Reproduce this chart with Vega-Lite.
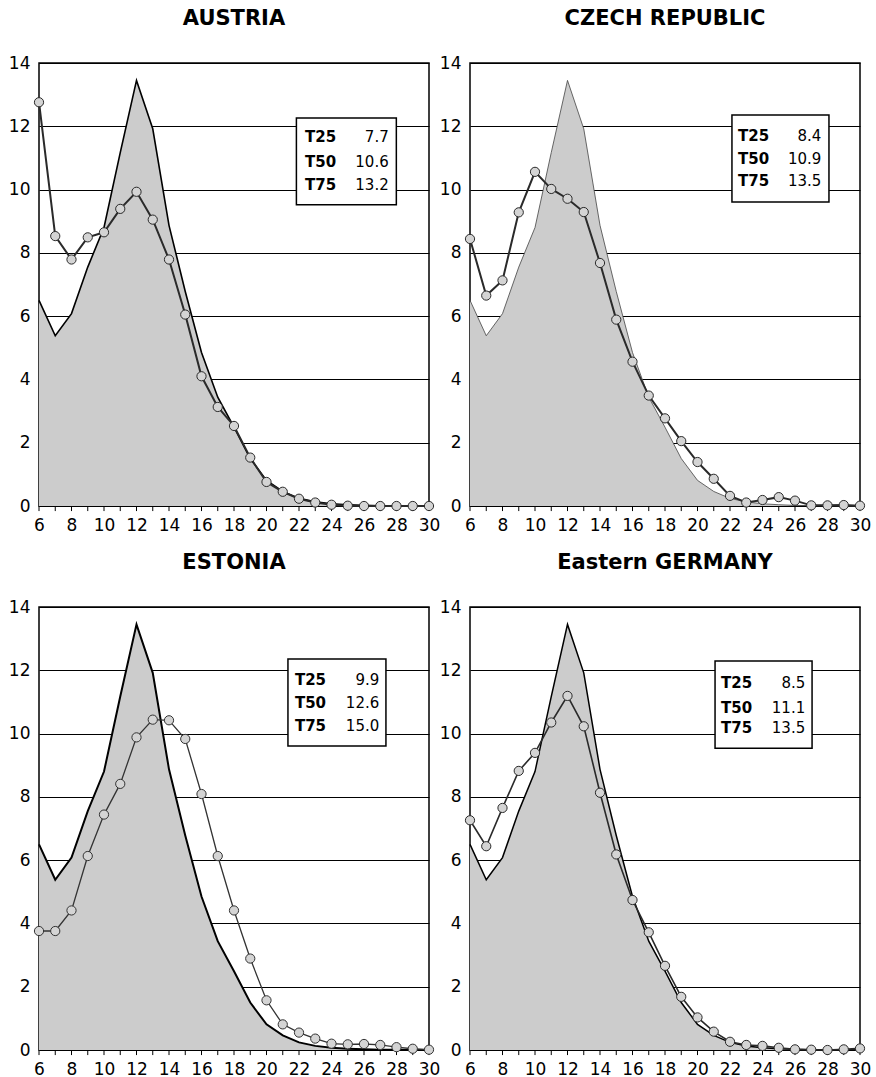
{
  "$schema": "https://vega.github.io/schema/vega-lite/v6.json",
  "background": "white",
  "padding": {"top": 7, "left": 7, "right": 5, "bottom": 5},
  "config": {
    "font": "DejaVu Sans",
    "view": {"stroke": "#000", "strokeWidth": 1.5},
    "axis": {"labelFont": "DejaVu Sans", "labelFontSize": 17, "labelColor": "#000", "domain": false, "labelFlush": false, "labelOverlap": false, "ticks": false, "tickSize": 0},
    "axisY": {"grid": true, "gridColor": "#000", "gridWidth": 1, "labelPadding": 9},
    "axisX": {"grid": false, "labelPadding": 11, "labelFontSize": 17},
    "title": {"font": "DejaVu Sans", "fontSize": 21, "fontWeight": "bold", "color": "#000", "baseline": "alphabetic", "offset": 25, "anchor": "middle"},
    "text": {"font": "DejaVu Sans", "fontSize": 15, "color": "#000", "baseline": "middle"}
  },
  "datasets": {
    "reference_curve": [
      {"age": 6, "pct": 6.5}, {"age": 7, "pct": 5.38}, {"age": 8, "pct": 6.08}, {"age": 9, "pct": 7.55},
      {"age": 10, "pct": 8.8}, {"age": 11, "pct": 11.17}, {"age": 12, "pct": 13.45}, {"age": 13, "pct": 11.92},
      {"age": 14, "pct": 8.87}, {"age": 15, "pct": 6.78}, {"age": 16, "pct": 4.85}, {"age": 17, "pct": 3.44},
      {"age": 18, "pct": 2.49}, {"age": 19, "pct": 1.5}, {"age": 20, "pct": 0.81}, {"age": 21, "pct": 0.46},
      {"age": 22, "pct": 0.24}, {"age": 23, "pct": 0.13}, {"age": 24, "pct": 0.07}, {"age": 25, "pct": 0.04},
      {"age": 26, "pct": 0.02}, {"age": 27, "pct": 0.01}, {"age": 28, "pct": 0.01}, {"age": 29, "pct": 0}, {"age": 30, "pct": 0}
    ],
    "country_curves": [
      {"country": "Austria", "age": 6, "pct": 12.76}, {"country": "Austria", "age": 7, "pct": 8.53},
      {"country": "Austria", "age": 8, "pct": 7.79}, {"country": "Austria", "age": 9, "pct": 8.49},
      {"country": "Austria", "age": 10, "pct": 8.65}, {"country": "Austria", "age": 11, "pct": 9.39},
      {"country": "Austria", "age": 12, "pct": 9.93}, {"country": "Austria", "age": 13, "pct": 9.05},
      {"country": "Austria", "age": 14, "pct": 7.79}, {"country": "Austria", "age": 15, "pct": 6.05},
      {"country": "Austria", "age": 16, "pct": 4.1}, {"country": "Austria", "age": 17, "pct": 3.13},
      {"country": "Austria", "age": 18, "pct": 2.53}, {"country": "Austria", "age": 19, "pct": 1.53},
      {"country": "Austria", "age": 20, "pct": 0.76}, {"country": "Austria", "age": 21, "pct": 0.45},
      {"country": "Austria", "age": 22, "pct": 0.23}, {"country": "Austria", "age": 23, "pct": 0.11},
      {"country": "Austria", "age": 24, "pct": 0.04}, {"country": "Austria", "age": 25, "pct": 0.01},
      {"country": "Austria", "age": 26, "pct": 0}, {"country": "Austria", "age": 27, "pct": 0},
      {"country": "Austria", "age": 28, "pct": 0}, {"country": "Austria", "age": 29, "pct": 0},
      {"country": "Austria", "age": 30, "pct": 0},

      {"country": "Czech Republic", "age": 6, "pct": 8.44}, {"country": "Czech Republic", "age": 7, "pct": 6.65},
      {"country": "Czech Republic", "age": 8, "pct": 7.13}, {"country": "Czech Republic", "age": 9, "pct": 9.28},
      {"country": "Czech Republic", "age": 10, "pct": 10.56}, {"country": "Czech Republic", "age": 11, "pct": 10.02},
      {"country": "Czech Republic", "age": 12, "pct": 9.71}, {"country": "Czech Republic", "age": 13, "pct": 9.29},
      {"country": "Czech Republic", "age": 14, "pct": 7.68}, {"country": "Czech Republic", "age": 15, "pct": 5.89},
      {"country": "Czech Republic", "age": 16, "pct": 4.56}, {"country": "Czech Republic", "age": 17, "pct": 3.49},
      {"country": "Czech Republic", "age": 18, "pct": 2.77}, {"country": "Czech Republic", "age": 19, "pct": 2.05},
      {"country": "Czech Republic", "age": 20, "pct": 1.39}, {"country": "Czech Republic", "age": 21, "pct": 0.86},
      {"country": "Czech Republic", "age": 22, "pct": 0.32}, {"country": "Czech Republic", "age": 23, "pct": 0.11},
      {"country": "Czech Republic", "age": 24, "pct": 0.19}, {"country": "Czech Republic", "age": 25, "pct": 0.28},
      {"country": "Czech Republic", "age": 26, "pct": 0.17}, {"country": "Czech Republic", "age": 27, "pct": 0.02},
      {"country": "Czech Republic", "age": 28, "pct": 0.02}, {"country": "Czech Republic", "age": 29, "pct": 0.03},
      {"country": "Czech Republic", "age": 30, "pct": 0.01},

      {"country": "Estonia", "age": 6, "pct": 3.76}, {"country": "Estonia", "age": 7, "pct": 3.76},
      {"country": "Estonia", "age": 8, "pct": 4.41}, {"country": "Estonia", "age": 9, "pct": 6.13},
      {"country": "Estonia", "age": 10, "pct": 7.44}, {"country": "Estonia", "age": 11, "pct": 8.41},
      {"country": "Estonia", "age": 12, "pct": 9.88}, {"country": "Estonia", "age": 13, "pct": 10.44},
      {"country": "Estonia", "age": 14, "pct": 10.42}, {"country": "Estonia", "age": 15, "pct": 9.83},
      {"country": "Estonia", "age": 16, "pct": 8.09}, {"country": "Estonia", "age": 17, "pct": 6.13},
      {"country": "Estonia", "age": 18, "pct": 4.41}, {"country": "Estonia", "age": 19, "pct": 2.89},
      {"country": "Estonia", "age": 20, "pct": 1.57}, {"country": "Estonia", "age": 21, "pct": 0.81},
      {"country": "Estonia", "age": 22, "pct": 0.55}, {"country": "Estonia", "age": 23, "pct": 0.36},
      {"country": "Estonia", "age": 24, "pct": 0.2}, {"country": "Estonia", "age": 25, "pct": 0.18},
      {"country": "Estonia", "age": 26, "pct": 0.19}, {"country": "Estonia", "age": 27, "pct": 0.16},
      {"country": "Estonia", "age": 28, "pct": 0.09}, {"country": "Estonia", "age": 29, "pct": 0.04},
      {"country": "Estonia", "age": 30, "pct": 0.01},

      {"country": "Eastern Germany", "age": 6, "pct": 7.26}, {"country": "Eastern Germany", "age": 7, "pct": 6.44},
      {"country": "Eastern Germany", "age": 8, "pct": 7.65}, {"country": "Eastern Germany", "age": 9, "pct": 8.82},
      {"country": "Eastern Germany", "age": 10, "pct": 9.39}, {"country": "Eastern Germany", "age": 11, "pct": 10.35},
      {"country": "Eastern Germany", "age": 12, "pct": 11.19}, {"country": "Eastern Germany", "age": 13, "pct": 10.23},
      {"country": "Eastern Germany", "age": 14, "pct": 8.13}, {"country": "Eastern Germany", "age": 15, "pct": 6.18},
      {"country": "Eastern Germany", "age": 16, "pct": 4.74}, {"country": "Eastern Germany", "age": 17, "pct": 3.72},
      {"country": "Eastern Germany", "age": 18, "pct": 2.66}, {"country": "Eastern Germany", "age": 19, "pct": 1.68},
      {"country": "Eastern Germany", "age": 20, "pct": 1.03}, {"country": "Eastern Germany", "age": 21, "pct": 0.58},
      {"country": "Eastern Germany", "age": 22, "pct": 0.26}, {"country": "Eastern Germany", "age": 23, "pct": 0.16},
      {"country": "Eastern Germany", "age": 24, "pct": 0.13}, {"country": "Eastern Germany", "age": 25, "pct": 0.07},
      {"country": "Eastern Germany", "age": 26, "pct": 0.02}, {"country": "Eastern Germany", "age": 27, "pct": 0.01},
      {"country": "Eastern Germany", "age": 28, "pct": 0}, {"country": "Eastern Germany", "age": 29, "pct": 0.02},
      {"country": "Eastern Germany", "age": 30, "pct": 0.05}
    ],
    "quantiles": [
      {"country": "Austria", "stat": "T25", "value": 7.7},
      {"country": "Austria", "stat": "T50", "value": 10.6},
      {"country": "Austria", "stat": "T75", "value": 13.2},
      {"country": "Czech Republic", "stat": "T25", "value": 8.4},
      {"country": "Czech Republic", "stat": "T50", "value": 10.9},
      {"country": "Czech Republic", "stat": "T75", "value": 13.5},
      {"country": "Estonia", "stat": "T25", "value": 9.9},
      {"country": "Estonia", "stat": "T50", "value": 12.6},
      {"country": "Estonia", "stat": "T75", "value": 15.0},
      {"country": "Eastern Germany", "stat": "T25", "value": 8.5},
      {"country": "Eastern Germany", "stat": "T50", "value": 11.1},
      {"country": "Eastern Germany", "stat": "T75", "value": 13.5}
    ]
  },
  "columns": 2,
  "spacing": {"row": 101, "column": 41},
  "bounds": "flush",
  "concat": [
    {
      "width": 390, "height": 443,
      "title": "AUSTRIA",
      "layer": [
        {"data": {"name": "reference_curve"},
         "mark": {"type": "area", "color": "#cccccc", "opacity": 1, "line": {"color": "#000", "strokeWidth": 1.6}},
         "encoding": {
           "x": {"field": "age", "type": "quantitative", "title": null, "scale": {"domain": [6, 30], "nice": false, "zero": false},
                 "axis": {"values": [6, 8, 10, 12, 14, 16, 18, 20, 22, 24, 26, 28, 30], "labelOverlap": false, "labelFlush": false}},
           "y": {"field": "pct", "type": "quantitative", "title": null, "scale": {"domain": [0, 14], "nice": false},
                 "axis": {"values": [0, 2, 4, 6, 8, 10, 12, 14], "labelOverlap": false}}
         }},
        {"data": {"name": "reference_curve"},
         "mark": {"type": "rule", "color": "#000", "strokeWidth": 1},
         "encoding": {"x": {"field": "age", "type": "quantitative", "title": null, "axis": {"values": [6, 8, 10, 12, 14, 16, 18, 20, 22, 24, 26, 28, 30], "labelOverlap": false, "labelFlush": false}},
                      "y": {"datum": 0, "type": "quantitative", "axis": {"values": [0, 2, 4, 6, 8, 10, 12, 14], "labelOverlap": false}}, "y2": {"datum": -0.16}}},
        {"data": {"name": "country_curves"}, "transform": [{"filter": "datum.country === 'Austria'"}],
         "mark": {"type": "line", "color": "#2a2a2a", "strokeWidth": 2,
                  "point": {"filled": true, "fill": "#d4d4d4", "stroke": "#2a2a2a", "strokeWidth": 1, "size": 85}},
         "encoding": {"x": {"field": "age", "type": "quantitative", "title": null, "axis": {"values": [6, 8, 10, 12, 14, 16, 18, 20, 22, 24, 26, 28, 30], "labelOverlap": false, "labelFlush": false}},
                      "y": {"field": "pct", "type": "quantitative", "title": null, "axis": {"values": [0, 2, 4, 6, 8, 10, 12, 14], "labelOverlap": false}}}},
        {"data": {"name": "quantiles"}, "transform": [{"filter": "datum.country === 'Austria' && datum.stat === 'T25'"}],
         "mark": {"type": "rect", "fill": "#fff", "stroke": "#000", "strokeWidth": 1.5},
         "encoding": {"x": {"datum": 21.84, "type": "quantitative", "axis": {"values": [6, 8, 10, 12, 14, 16, 18, 20, 22, 24, 26, 28, 30], "labelOverlap": false, "labelFlush": false}}, "x2": {"datum": 27.99},
                      "y": {"datum": 12.26, "type": "quantitative", "axis": {"values": [0, 2, 4, 6, 8, 10, 12, 14], "labelOverlap": false}}, "y2": {"datum": 9.52}}},
        {"data": {"name": "quantiles"}, "transform": [{"filter": "datum.country === 'Austria' && datum.stat === 'T25'"}],
         "mark": {"type": "text", "fontWeight": "bold", "align": "left"},
         "encoding": {"x": {"datum": 22.37, "type": "quantitative", "axis": {"values": [6, 8, 10, 12, 14, 16, 18, 20, 22, 24, 26, 28, 30], "labelOverlap": false, "labelFlush": false}}, "y": {"datum": 11.66, "type": "quantitative", "axis": {"values": [0, 2, 4, 6, 8, 10, 12, 14], "labelOverlap": false}}, "text": {"field": "stat"}}},
        {"data": {"name": "quantiles"}, "transform": [{"filter": "datum.country === 'Austria' && datum.stat === 'T25'"}],
         "mark": {"type": "text", "align": "right"},
         "encoding": {"x": {"datum": 27.52, "type": "quantitative", "axis": {"values": [6, 8, 10, 12, 14, 16, 18, 20, 22, 24, 26, 28, 30], "labelOverlap": false, "labelFlush": false}}, "y": {"datum": 11.66, "type": "quantitative", "axis": {"values": [0, 2, 4, 6, 8, 10, 12, 14], "labelOverlap": false}}, "text": {"field": "value", "format": ".1f"}}},
        {"data": {"name": "quantiles"}, "transform": [{"filter": "datum.country === 'Austria' && datum.stat === 'T50'"}],
         "mark": {"type": "text", "fontWeight": "bold", "align": "left"},
         "encoding": {"x": {"datum": 22.37, "type": "quantitative", "axis": {"values": [6, 8, 10, 12, 14, 16, 18, 20, 22, 24, 26, 28, 30], "labelOverlap": false, "labelFlush": false}}, "y": {"datum": 10.86, "type": "quantitative", "axis": {"values": [0, 2, 4, 6, 8, 10, 12, 14], "labelOverlap": false}}, "text": {"field": "stat"}}},
        {"data": {"name": "quantiles"}, "transform": [{"filter": "datum.country === 'Austria' && datum.stat === 'T50'"}],
         "mark": {"type": "text", "align": "right"},
         "encoding": {"x": {"datum": 27.52, "type": "quantitative", "axis": {"values": [6, 8, 10, 12, 14, 16, 18, 20, 22, 24, 26, 28, 30], "labelOverlap": false, "labelFlush": false}}, "y": {"datum": 10.86, "type": "quantitative", "axis": {"values": [0, 2, 4, 6, 8, 10, 12, 14], "labelOverlap": false}}, "text": {"field": "value", "format": ".1f"}}},
        {"data": {"name": "quantiles"}, "transform": [{"filter": "datum.country === 'Austria' && datum.stat === 'T75'"}],
         "mark": {"type": "text", "fontWeight": "bold", "align": "left"},
         "encoding": {"x": {"datum": 22.37, "type": "quantitative", "axis": {"values": [6, 8, 10, 12, 14, 16, 18, 20, 22, 24, 26, 28, 30], "labelOverlap": false, "labelFlush": false}}, "y": {"datum": 10.14, "type": "quantitative", "axis": {"values": [0, 2, 4, 6, 8, 10, 12, 14], "labelOverlap": false}}, "text": {"field": "stat"}}},
        {"data": {"name": "quantiles"}, "transform": [{"filter": "datum.country === 'Austria' && datum.stat === 'T75'"}],
         "mark": {"type": "text", "align": "right"},
         "encoding": {"x": {"datum": 27.52, "type": "quantitative", "axis": {"values": [6, 8, 10, 12, 14, 16, 18, 20, 22, 24, 26, 28, 30], "labelOverlap": false, "labelFlush": false}}, "y": {"datum": 10.14, "type": "quantitative", "axis": {"values": [0, 2, 4, 6, 8, 10, 12, 14], "labelOverlap": false}}, "text": {"field": "value", "format": ".1f"}}}
      ]
    },
    {
      "width": 390, "height": 443,
      "title": "CZECH REPUBLIC",
      "layer": [
        {"data": {"name": "reference_curve"},
         "mark": {"type": "area", "color": "#cccccc", "opacity": 1, "line": {"color": "#444", "strokeWidth": 0.8}},
         "encoding": {
           "x": {"field": "age", "type": "quantitative", "title": null, "scale": {"domain": [6, 30], "nice": false, "zero": false},
                 "axis": {"values": [6, 8, 10, 12, 14, 16, 18, 20, 22, 24, 26, 28, 30], "labelOverlap": false, "labelFlush": false}},
           "y": {"field": "pct", "type": "quantitative", "title": null, "scale": {"domain": [0, 14], "nice": false},
                 "axis": {"values": [0, 2, 4, 6, 8, 10, 12, 14], "labelOverlap": false}}
         }},
        {"data": {"name": "reference_curve"},
         "mark": {"type": "rule", "color": "#000", "strokeWidth": 1},
         "encoding": {"x": {"field": "age", "type": "quantitative", "title": null, "axis": {"values": [6, 8, 10, 12, 14, 16, 18, 20, 22, 24, 26, 28, 30], "labelOverlap": false, "labelFlush": false}},
                      "y": {"datum": 0, "type": "quantitative", "axis": {"values": [0, 2, 4, 6, 8, 10, 12, 14], "labelOverlap": false}}, "y2": {"datum": -0.16}}},
        {"data": {"name": "country_curves"}, "transform": [{"filter": "datum.country === 'Czech Republic'"}],
         "mark": {"type": "line", "color": "#2a2a2a", "strokeWidth": 2,
                  "point": {"filled": true, "fill": "#d4d4d4", "stroke": "#2a2a2a", "strokeWidth": 1, "size": 85}},
         "encoding": {"x": {"field": "age", "type": "quantitative", "title": null, "axis": {"values": [6, 8, 10, 12, 14, 16, 18, 20, 22, 24, 26, 28, 30], "labelOverlap": false, "labelFlush": false}},
                      "y": {"field": "pct", "type": "quantitative", "title": null, "axis": {"values": [0, 2, 4, 6, 8, 10, 12, 14], "labelOverlap": false}}}},
        {"data": {"name": "quantiles"}, "transform": [{"filter": "datum.country === 'Czech Republic' && datum.stat === 'T25'"}],
         "mark": {"type": "rect", "fill": "#fff", "stroke": "#000", "strokeWidth": 1.5},
         "encoding": {"x": {"datum": 22.12, "type": "quantitative", "axis": {"values": [6, 8, 10, 12, 14, 16, 18, 20, 22, 24, 26, 28, 30], "labelOverlap": false, "labelFlush": false}}, "x2": {"datum": 28.09},
                      "y": {"datum": 12.36, "type": "quantitative", "axis": {"values": [0, 2, 4, 6, 8, 10, 12, 14], "labelOverlap": false}}, "y2": {"datum": 9.61}}},
        {"data": {"name": "quantiles"}, "transform": [{"filter": "datum.country === 'Czech Republic' && datum.stat === 'T25'"}],
         "mark": {"type": "text", "fontWeight": "bold", "align": "left"},
         "encoding": {"x": {"datum": 22.49, "type": "quantitative", "axis": {"values": [6, 8, 10, 12, 14, 16, 18, 20, 22, 24, 26, 28, 30], "labelOverlap": false, "labelFlush": false}}, "y": {"datum": 11.7, "type": "quantitative", "axis": {"values": [0, 2, 4, 6, 8, 10, 12, 14], "labelOverlap": false}}, "text": {"field": "stat"}}},
        {"data": {"name": "quantiles"}, "transform": [{"filter": "datum.country === 'Czech Republic' && datum.stat === 'T25'"}],
         "mark": {"type": "text", "align": "right"},
         "encoding": {"x": {"datum": 27.62, "type": "quantitative", "axis": {"values": [6, 8, 10, 12, 14, 16, 18, 20, 22, 24, 26, 28, 30], "labelOverlap": false, "labelFlush": false}}, "y": {"datum": 11.7, "type": "quantitative", "axis": {"values": [0, 2, 4, 6, 8, 10, 12, 14], "labelOverlap": false}}, "text": {"field": "value", "format": ".1f"}}},
        {"data": {"name": "quantiles"}, "transform": [{"filter": "datum.country === 'Czech Republic' && datum.stat === 'T50'"}],
         "mark": {"type": "text", "fontWeight": "bold", "align": "left"},
         "encoding": {"x": {"datum": 22.49, "type": "quantitative", "axis": {"values": [6, 8, 10, 12, 14, 16, 18, 20, 22, 24, 26, 28, 30], "labelOverlap": false, "labelFlush": false}}, "y": {"datum": 10.97, "type": "quantitative", "axis": {"values": [0, 2, 4, 6, 8, 10, 12, 14], "labelOverlap": false}}, "text": {"field": "stat"}}},
        {"data": {"name": "quantiles"}, "transform": [{"filter": "datum.country === 'Czech Republic' && datum.stat === 'T50'"}],
         "mark": {"type": "text", "align": "right"},
         "encoding": {"x": {"datum": 27.62, "type": "quantitative", "axis": {"values": [6, 8, 10, 12, 14, 16, 18, 20, 22, 24, 26, 28, 30], "labelOverlap": false, "labelFlush": false}}, "y": {"datum": 10.97, "type": "quantitative", "axis": {"values": [0, 2, 4, 6, 8, 10, 12, 14], "labelOverlap": false}}, "text": {"field": "value", "format": ".1f"}}},
        {"data": {"name": "quantiles"}, "transform": [{"filter": "datum.country === 'Czech Republic' && datum.stat === 'T75'"}],
         "mark": {"type": "text", "fontWeight": "bold", "align": "left"},
         "encoding": {"x": {"datum": 22.49, "type": "quantitative", "axis": {"values": [6, 8, 10, 12, 14, 16, 18, 20, 22, 24, 26, 28, 30], "labelOverlap": false, "labelFlush": false}}, "y": {"datum": 10.28, "type": "quantitative", "axis": {"values": [0, 2, 4, 6, 8, 10, 12, 14], "labelOverlap": false}}, "text": {"field": "stat"}}},
        {"data": {"name": "quantiles"}, "transform": [{"filter": "datum.country === 'Czech Republic' && datum.stat === 'T75'"}],
         "mark": {"type": "text", "align": "right"},
         "encoding": {"x": {"datum": 27.62, "type": "quantitative", "axis": {"values": [6, 8, 10, 12, 14, 16, 18, 20, 22, 24, 26, 28, 30], "labelOverlap": false, "labelFlush": false}}, "y": {"datum": 10.28, "type": "quantitative", "axis": {"values": [0, 2, 4, 6, 8, 10, 12, 14], "labelOverlap": false}}, "text": {"field": "value", "format": ".1f"}}}
      ]
    },
    {
      "width": 390, "height": 443,
      "title": "ESTONIA",
      "layer": [
        {"data": {"name": "reference_curve"},
         "mark": {"type": "area", "color": "#cccccc", "opacity": 1, "line": {"color": "#000", "strokeWidth": 2}},
         "encoding": {
           "x": {"field": "age", "type": "quantitative", "title": null, "scale": {"domain": [6, 30], "nice": false, "zero": false},
                 "axis": {"values": [6, 8, 10, 12, 14, 16, 18, 20, 22, 24, 26, 28, 30], "labelOverlap": false, "labelFlush": false}},
           "y": {"field": "pct", "type": "quantitative", "title": null, "scale": {"domain": [0, 14], "nice": false},
                 "axis": {"values": [0, 2, 4, 6, 8, 10, 12, 14], "labelOverlap": false}}
         }},
        {"data": {"name": "reference_curve"},
         "mark": {"type": "rule", "color": "#000", "strokeWidth": 1},
         "encoding": {"x": {"field": "age", "type": "quantitative", "title": null, "axis": {"values": [6, 8, 10, 12, 14, 16, 18, 20, 22, 24, 26, 28, 30], "labelOverlap": false, "labelFlush": false}},
                      "y": {"datum": 0, "type": "quantitative", "axis": {"values": [0, 2, 4, 6, 8, 10, 12, 14], "labelOverlap": false}}, "y2": {"datum": -0.16}}},
        {"data": {"name": "country_curves"}, "transform": [{"filter": "datum.country === 'Estonia'"}],
         "mark": {"type": "line", "color": "#333", "strokeWidth": 1.3,
                  "point": {"filled": true, "fill": "#d4d4d4", "stroke": "#333", "strokeWidth": 1, "size": 85}},
         "encoding": {"x": {"field": "age", "type": "quantitative", "title": null, "axis": {"values": [6, 8, 10, 12, 14, 16, 18, 20, 22, 24, 26, 28, 30], "labelOverlap": false, "labelFlush": false}},
                      "y": {"field": "pct", "type": "quantitative", "title": null, "axis": {"values": [0, 2, 4, 6, 8, 10, 12, 14], "labelOverlap": false}}}},
        {"data": {"name": "quantiles"}, "transform": [{"filter": "datum.country === 'Estonia' && datum.stat === 'T25'"}],
         "mark": {"type": "rect", "fill": "#fff", "stroke": "#000", "strokeWidth": 1.5},
         "encoding": {"x": {"datum": 21.32, "type": "quantitative", "axis": {"values": [6, 8, 10, 12, 14, 16, 18, 20, 22, 24, 26, 28, 30], "labelOverlap": false, "labelFlush": false}}, "x2": {"datum": 27.35},
                      "y": {"datum": 12.36, "type": "quantitative", "axis": {"values": [0, 2, 4, 6, 8, 10, 12, 14], "labelOverlap": false}}, "y2": {"datum": 9.61}}},
        {"data": {"name": "quantiles"}, "transform": [{"filter": "datum.country === 'Estonia' && datum.stat === 'T25'"}],
         "mark": {"type": "text", "fontWeight": "bold", "align": "left"},
         "encoding": {"x": {"datum": 21.75, "type": "quantitative", "axis": {"values": [6, 8, 10, 12, 14, 16, 18, 20, 22, 24, 26, 28, 30], "labelOverlap": false, "labelFlush": false}}, "y": {"datum": 11.68, "type": "quantitative", "axis": {"values": [0, 2, 4, 6, 8, 10, 12, 14], "labelOverlap": false}}, "text": {"field": "stat"}}},
        {"data": {"name": "quantiles"}, "transform": [{"filter": "datum.country === 'Estonia' && datum.stat === 'T25'"}],
         "mark": {"type": "text", "align": "right"},
         "encoding": {"x": {"datum": 26.94, "type": "quantitative", "axis": {"values": [6, 8, 10, 12, 14, 16, 18, 20, 22, 24, 26, 28, 30], "labelOverlap": false, "labelFlush": false}}, "y": {"datum": 11.68, "type": "quantitative", "axis": {"values": [0, 2, 4, 6, 8, 10, 12, 14], "labelOverlap": false}}, "text": {"field": "value", "format": ".1f"}}},
        {"data": {"name": "quantiles"}, "transform": [{"filter": "datum.country === 'Estonia' && datum.stat === 'T50'"}],
         "mark": {"type": "text", "fontWeight": "bold", "align": "left"},
         "encoding": {"x": {"datum": 21.75, "type": "quantitative", "axis": {"values": [6, 8, 10, 12, 14, 16, 18, 20, 22, 24, 26, 28, 30], "labelOverlap": false, "labelFlush": false}}, "y": {"datum": 10.97, "type": "quantitative", "axis": {"values": [0, 2, 4, 6, 8, 10, 12, 14], "labelOverlap": false}}, "text": {"field": "stat"}}},
        {"data": {"name": "quantiles"}, "transform": [{"filter": "datum.country === 'Estonia' && datum.stat === 'T50'"}],
         "mark": {"type": "text", "align": "right"},
         "encoding": {"x": {"datum": 26.94, "type": "quantitative", "axis": {"values": [6, 8, 10, 12, 14, 16, 18, 20, 22, 24, 26, 28, 30], "labelOverlap": false, "labelFlush": false}}, "y": {"datum": 10.97, "type": "quantitative", "axis": {"values": [0, 2, 4, 6, 8, 10, 12, 14], "labelOverlap": false}}, "text": {"field": "value", "format": ".1f"}}},
        {"data": {"name": "quantiles"}, "transform": [{"filter": "datum.country === 'Estonia' && datum.stat === 'T75'"}],
         "mark": {"type": "text", "fontWeight": "bold", "align": "left"},
         "encoding": {"x": {"datum": 21.75, "type": "quantitative", "axis": {"values": [6, 8, 10, 12, 14, 16, 18, 20, 22, 24, 26, 28, 30], "labelOverlap": false, "labelFlush": false}}, "y": {"datum": 10.25, "type": "quantitative", "axis": {"values": [0, 2, 4, 6, 8, 10, 12, 14], "labelOverlap": false}}, "text": {"field": "stat"}}},
        {"data": {"name": "quantiles"}, "transform": [{"filter": "datum.country === 'Estonia' && datum.stat === 'T75'"}],
         "mark": {"type": "text", "align": "right"},
         "encoding": {"x": {"datum": 26.94, "type": "quantitative", "axis": {"values": [6, 8, 10, 12, 14, 16, 18, 20, 22, 24, 26, 28, 30], "labelOverlap": false, "labelFlush": false}}, "y": {"datum": 10.25, "type": "quantitative", "axis": {"values": [0, 2, 4, 6, 8, 10, 12, 14], "labelOverlap": false}}, "text": {"field": "value", "format": ".1f"}}}
      ]
    },
    {
      "width": 390, "height": 443,
      "title": "Eastern GERMANY",
      "layer": [
        {"data": {"name": "reference_curve"},
         "mark": {"type": "area", "color": "#cccccc", "opacity": 1, "line": {"color": "#000", "strokeWidth": 1.5}},
         "encoding": {
           "x": {"field": "age", "type": "quantitative", "title": null, "scale": {"domain": [6, 30], "nice": false, "zero": false},
                 "axis": {"values": [6, 8, 10, 12, 14, 16, 18, 20, 22, 24, 26, 28, 30], "labelOverlap": false, "labelFlush": false}},
           "y": {"field": "pct", "type": "quantitative", "title": null, "scale": {"domain": [0, 14], "nice": false},
                 "axis": {"values": [0, 2, 4, 6, 8, 10, 12, 14], "labelOverlap": false}}
         }},
        {"data": {"name": "reference_curve"},
         "mark": {"type": "rule", "color": "#000", "strokeWidth": 1},
         "encoding": {"x": {"field": "age", "type": "quantitative", "title": null, "axis": {"values": [6, 8, 10, 12, 14, 16, 18, 20, 22, 24, 26, 28, 30], "labelOverlap": false, "labelFlush": false}},
                      "y": {"datum": 0, "type": "quantitative", "axis": {"values": [0, 2, 4, 6, 8, 10, 12, 14], "labelOverlap": false}}, "y2": {"datum": -0.16}}},
        {"data": {"name": "country_curves"}, "transform": [{"filter": "datum.country === 'Eastern Germany'"}],
         "mark": {"type": "line", "color": "#2a2a2a", "strokeWidth": 1.6,
                  "point": {"filled": true, "fill": "#d4d4d4", "stroke": "#2a2a2a", "strokeWidth": 1, "size": 85}},
         "encoding": {"x": {"field": "age", "type": "quantitative", "title": null, "axis": {"values": [6, 8, 10, 12, 14, 16, 18, 20, 22, 24, 26, 28, 30], "labelOverlap": false, "labelFlush": false}},
                      "y": {"field": "pct", "type": "quantitative", "title": null, "axis": {"values": [0, 2, 4, 6, 8, 10, 12, 14], "labelOverlap": false}}}},
        {"data": {"name": "quantiles"}, "transform": [{"filter": "datum.country === 'Eastern Germany' && datum.stat === 'T25'"}],
         "mark": {"type": "rect", "fill": "#fff", "stroke": "#000", "strokeWidth": 1.5},
         "encoding": {"x": {"datum": 21.08, "type": "quantitative", "axis": {"values": [6, 8, 10, 12, 14, 16, 18, 20, 22, 24, 26, 28, 30], "labelOverlap": false, "labelFlush": false}}, "x2": {"datum": 27.05},
                      "y": {"datum": 12.29, "type": "quantitative", "axis": {"values": [0, 2, 4, 6, 8, 10, 12, 14], "labelOverlap": false}}, "y2": {"datum": 9.54}}},
        {"data": {"name": "quantiles"}, "transform": [{"filter": "datum.country === 'Eastern Germany' && datum.stat === 'T25'"}],
         "mark": {"type": "text", "fontWeight": "bold", "align": "left"},
         "encoding": {"x": {"datum": 21.45, "type": "quantitative", "axis": {"values": [6, 8, 10, 12, 14, 16, 18, 20, 22, 24, 26, 28, 30], "labelOverlap": false, "labelFlush": false}}, "y": {"datum": 11.61, "type": "quantitative", "axis": {"values": [0, 2, 4, 6, 8, 10, 12, 14], "labelOverlap": false}}, "text": {"field": "stat"}}},
        {"data": {"name": "quantiles"}, "transform": [{"filter": "datum.country === 'Eastern Germany' && datum.stat === 'T25'"}],
         "mark": {"type": "text", "align": "right"},
         "encoding": {"x": {"datum": 26.63, "type": "quantitative", "axis": {"values": [6, 8, 10, 12, 14, 16, 18, 20, 22, 24, 26, 28, 30], "labelOverlap": false, "labelFlush": false}}, "y": {"datum": 11.61, "type": "quantitative", "axis": {"values": [0, 2, 4, 6, 8, 10, 12, 14], "labelOverlap": false}}, "text": {"field": "value", "format": ".1f"}}},
        {"data": {"name": "quantiles"}, "transform": [{"filter": "datum.country === 'Eastern Germany' && datum.stat === 'T50'"}],
         "mark": {"type": "text", "fontWeight": "bold", "align": "left"},
         "encoding": {"x": {"datum": 21.45, "type": "quantitative", "axis": {"values": [6, 8, 10, 12, 14, 16, 18, 20, 22, 24, 26, 28, 30], "labelOverlap": false, "labelFlush": false}}, "y": {"datum": 10.82, "type": "quantitative", "axis": {"values": [0, 2, 4, 6, 8, 10, 12, 14], "labelOverlap": false}}, "text": {"field": "stat"}}},
        {"data": {"name": "quantiles"}, "transform": [{"filter": "datum.country === 'Eastern Germany' && datum.stat === 'T50'"}],
         "mark": {"type": "text", "align": "right"},
         "encoding": {"x": {"datum": 26.63, "type": "quantitative", "axis": {"values": [6, 8, 10, 12, 14, 16, 18, 20, 22, 24, 26, 28, 30], "labelOverlap": false, "labelFlush": false}}, "y": {"datum": 10.82, "type": "quantitative", "axis": {"values": [0, 2, 4, 6, 8, 10, 12, 14], "labelOverlap": false}}, "text": {"field": "value", "format": ".1f"}}},
        {"data": {"name": "quantiles"}, "transform": [{"filter": "datum.country === 'Eastern Germany' && datum.stat === 'T75'"}],
         "mark": {"type": "text", "fontWeight": "bold", "align": "left"},
         "encoding": {"x": {"datum": 21.45, "type": "quantitative", "axis": {"values": [6, 8, 10, 12, 14, 16, 18, 20, 22, 24, 26, 28, 30], "labelOverlap": false, "labelFlush": false}}, "y": {"datum": 10.17, "type": "quantitative", "axis": {"values": [0, 2, 4, 6, 8, 10, 12, 14], "labelOverlap": false}}, "text": {"field": "stat"}}},
        {"data": {"name": "quantiles"}, "transform": [{"filter": "datum.country === 'Eastern Germany' && datum.stat === 'T75'"}],
         "mark": {"type": "text", "align": "right"},
         "encoding": {"x": {"datum": 26.63, "type": "quantitative", "axis": {"values": [6, 8, 10, 12, 14, 16, 18, 20, 22, 24, 26, 28, 30], "labelOverlap": false, "labelFlush": false}}, "y": {"datum": 10.17, "type": "quantitative", "axis": {"values": [0, 2, 4, 6, 8, 10, 12, 14], "labelOverlap": false}}, "text": {"field": "value", "format": ".1f"}}}
      ]
    }
  ]
}
